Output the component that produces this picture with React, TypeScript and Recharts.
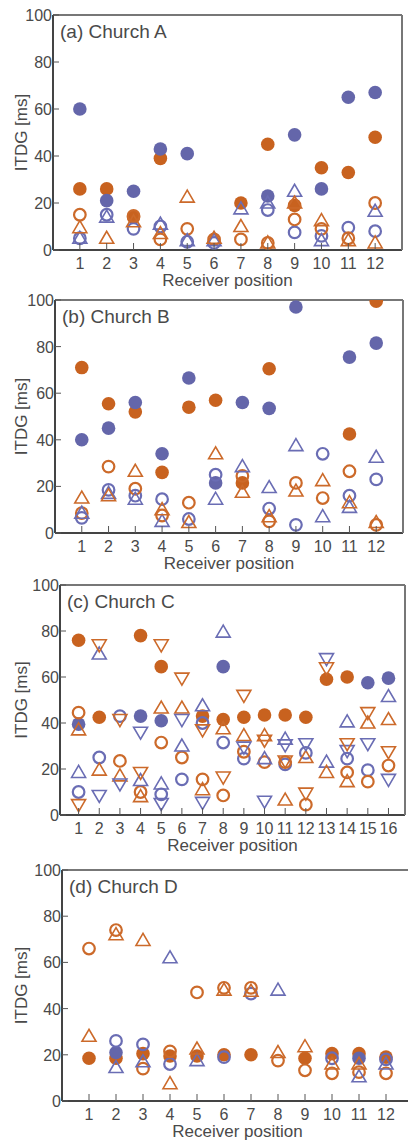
import React from 'react';
import { ScatterChart, Scatter, XAxis, YAxis, Label } from 'recharts';

// Church A, receiver positions 1-12
const A_BLUE_DOT = [60, 21, 25, 43, 41, null, null, 23, 49, 26, 65, 67];
const A_ORANGE_DOT = [26, 26, 14, 39, null, null, 20, 45, 19, 35, 33, 48];
const A_BLUE_RING = [5, 15, 9, 10, 3.5, 3, null, 17, 7.5, 6, 9.5, 8];
const A_ORANGE_RING = [15, null, 14.5, 4.5, 9, 4.5, 4.5, 3, 13, 9, 5, 20];
const A_BLUE_UP = [5, 14, null, 11, 4, 4, 17.5, 20, 25, 4, null, 16.5];
const A_ORANGE_UP = [9.5, 5, 12, 7, 22.5, 5, 10, 3, 20, 12.5, 4, 3];

// Church B, receiver positions 1-12
const B_BLUE_DOT = [40, 45, 56, 34, 66.5, 21.5, 56, 53.5, 97, null, 75.5, 81.5];
const B_ORANGE_DOT = [71, 55.5, 52, 26, 54, 57, 21.5, 70.5, null, null, 42.5, 99.5];
const B_BLUE_RING = [6.5, 18.5, 16, 14.5, 6, 25, null, 10.5, 3.5, 34, 16, 23];
const B_ORANGE_RING = [8.5, 28.5, 19, 7.5, 13, null, 24.5, 5, 21.5, 15, 26.5, 3.5];
const B_BLUE_UP = [8.5, 17, 14.5, 5, null, 14.5, 28.5, 19.5, 37.5, 7, 11, 32.5];
const B_ORANGE_UP = [15, 16, 26.5, 10, 4.5, 34, 17.5, 7, 18, 22.5, 13, 4.5];

// Church C, receiver positions 1-16
const C_BLUE_DOT = [39.5, null, null, 43, 41, null, null, 64.5, null, null, null, null, null, null, 57.5, 59.5];
const C_ORANGE_DOT = [76, 42.5, null, 78, 64.5, null, 43, 41.5, 42.5, 43.5, 43.5, 42.5, 59, 60, null, null];
const C_BLUE_RING = [10, 25, 43, null, 9, 15.5, 40, 31.5, 24.5, null, 22, 27, null, 24.5, 19.5, null];
const C_ORANGE_RING = [44.5, null, 23.5, 10, 31.5, 25, 15.5, 8.5, 27.5, 23, 23, 4.5, null, 18.5, 14.5, 21.5];
const C_BLUE_UP = [18.5, 70, null, 15, 13.5, 30, 47.5, 79.5, null, 24.5, 33, null, 23, 40.5, null, 51.5];
const C_ORANGE_UP = [37, 19.5, 17, 8, 46.5, 46.5, 11, 37.5, 34.5, 34.5, 6.5, 25, 18.5, 14.5, 40, 41.5];
const C_BLUE_DOWN = [null, 8.5, 13.5, 36, 5, 41.5, 5.5, null, 29.5, 6, 30.5, 31, 68, 28, 31, 15.5];
const C_ORANGE_DOWN = [4.5, 74, 41.5, 18.5, 74, 59.5, 37, 16.5, 52, 32.5, 23.5, 9.5, 64, 31, 44.5, 27.5];

// Church D, receiver positions 1-12
const D_BLUE_DOT = [null, 21, null, null, null, null, null, null, null, null, 18.5, null];
const D_ORANGE_DOT = [18.5, 18.5, 20.5, 19.5, 19.5, 20, 20, null, 18.5, 20.5, 20.5, 19];
const D_BLUE_RING = [null, 26, 24.5, 16, null, 19, 46.5, null, null, 18.5, null, 18];
const D_ORANGE_RING = [66, 74, 14, 21.5, 47, 49, 49, 17.5, 13.3, 12, 12.5, 12];
const D_BLUE_UP = [null, 14.5, 17, 62, 17.5, null, null, 48, null, null, 10.5, 16];
const D_ORANGE_UP = [28, 72, 69.5, 7.5, 22.5, 48, 47.5, 21, 23.5, 16, 16, null];

const Y_TICKS = [0, 20, 40, 60, 80, 100];
const POS_12 = [1, 2, 3, 4, 5, 6, 7, 8, 9, 10, 11, 12];
const POS_16 = [1, 2, 3, 4, 5, 6, 7, 8, 9, 10, 11, 12, 13, 14, 15, 16];

const BLUE = '#6a6db4';
const BLUE_FILL = '#6466aa';
const ORANGE = '#cc6a2a';
const ORANGE_FILL = '#c8621f';
const FONT = '"Liberation Sans", Arial, sans-serif';
const TEXT = '#4a4a4a';

const toPoints = (vals: (number | null)[]) =>
  vals.map((v, i) => (v == null ? null : { x: i + 1, y: v })).filter(Boolean) as { x: number; y: number }[];

const dot = (fill: string) => (p: any) => <circle cx={p.cx} cy={p.cy} r={6.8} fill={fill} />;
const ring = (stroke: string) => (p: any) => (
  <circle cx={p.cx} cy={p.cy} r={5.8} fill="none" stroke={stroke} strokeWidth={2.2} />
);
const up = (stroke: string) => (p: any) => (
  <polygon
    points={`${p.cx},${p.cy - 7} ${p.cx - 7},${p.cy + 5} ${p.cx + 7},${p.cy + 5}`}
    fill="none"
    stroke={stroke}
    strokeWidth={1.6}
  />
);
const down = (stroke: string) => (p: any) => (
  <polygon
    points={`${p.cx},${p.cy + 7} ${p.cx - 7},${p.cy - 5} ${p.cx + 7},${p.cy - 5}`}
    fill="none"
    stroke={stroke}
    strokeWidth={1.6}
  />
);

const XTick = (props: any) => {
  const { x, y, payload } = props;
  return (
    <g>
      <line x1={x} x2={x} y1={y} y2={y - 7} stroke="#555" strokeWidth={1} />
      <text x={x} y={y + 19} textAnchor="middle" fontSize={16} fill={TEXT} fontFamily={FONT}>
        {payload.value}
      </text>
    </g>
  );
};

const YTick = (props: any) => {
  const { x, y, payload } = props;
  return (
    <g>
      <line x1={x} x2={x + 6} y1={y} y2={y} stroke="#555" strokeWidth={1} />
      <text x={x - 1} y={y + 6} textAnchor="end" fontSize={16} fill={TEXT} fontFamily={FONT}>
        {payload.value}
      </text>
    </g>
  );
};

interface PanelProps {
  title: string;
  top: number;
  width: number;
  height: number;
  left: number;
  right: number;
  domain: [number, number];
  ticks: number[];
  blueDot: (number | null)[];
  orangeDot: (number | null)[];
  blueRing: (number | null)[];
  orangeRing: (number | null)[];
  blueUp: (number | null)[];
  orangeUp: (number | null)[];
  blueDown?: (number | null)[];
  orangeDown?: (number | null)[];
}

const Panel = (p: PanelProps) => (
  <div style={{ position: 'absolute', left: 0, top: p.top }}>
    <ScatterChart width={p.width} height={p.height} margin={{ top: 14, right: p.right, left: 0, bottom: 0 }}>
      <XAxis
        type="number"
        dataKey="x"
        domain={p.domain}
        ticks={p.ticks}
        allowDataOverflow
        interval={0}
        height={44}
        tickSize={0}
        tickMargin={0}
        tick={<XTick />}
        stroke="#444"
        strokeWidth={2}
      >
        <Label
          content={({ viewBox }: any) => (
            <text
              x={viewBox.x + viewBox.width / 2}
              y={viewBox.y + 36}
              textAnchor="middle"
              fontSize={17}
              fill={TEXT}
              fontFamily={FONT}
            >
              Receiver position
            </text>
          )}
        />
      </XAxis>
      <XAxis
        xAxisId="top"
        orientation="top"
        type="number"
        dataKey="x"
        domain={p.domain}
        allowDataOverflow
        height={1}
        tick={false}
        tickLine={false}
        stroke="#777"
        strokeWidth={2}
      >
        <Label
          content={({ viewBox }: any) => (
            <text x={viewBox.x + 7} y={viewBox.y + 24} fontSize={19} fill={TEXT} fontFamily={FONT}>
              {p.title}
            </text>
          )}
        />
      </XAxis>
      <YAxis
        type="number"
        dataKey="y"
        domain={[0, 100]}
        ticks={Y_TICKS}
        allowDataOverflow
        width={p.left}
        tickSize={0}
        tickMargin={0}
        tick={<YTick />}
        stroke="#444"
        strokeWidth={2}
      >
        <Label
          content={({ viewBox }: any) => {
            const cx = 21;
            const cy = viewBox.y + viewBox.height / 2;
            return (
              <text
                x={cx}
                y={cy}
                transform={`rotate(-90, ${cx}, ${cy})`}
                textAnchor="middle"
                dominantBaseline="central"
                fontSize={17}
                fill={TEXT}
                fontFamily={FONT}
              >
                ITDG [ms]
              </text>
            );
          }}
        />
      </YAxis>
      <YAxis
        yAxisId="right"
        orientation="right"
        type="number"
        domain={[0, 100]}
        allowDataOverflow
        width={1}
        tick={false}
        tickLine={false}
        stroke="#777"
        strokeWidth={2}
      />
      <Scatter data={toPoints(p.orangeDot)} shape={dot(ORANGE_FILL)} isAnimationActive={false} />
      <Scatter data={toPoints(p.blueDot)} shape={dot(BLUE_FILL)} isAnimationActive={false} />
      <Scatter data={toPoints(p.blueRing)} shape={ring(BLUE)} isAnimationActive={false} />
      <Scatter data={toPoints(p.orangeRing)} shape={ring(ORANGE)} isAnimationActive={false} />
      <Scatter data={toPoints(p.blueUp)} shape={up(BLUE)} isAnimationActive={false} />
      <Scatter data={toPoints(p.orangeUp)} shape={up(ORANGE)} isAnimationActive={false} />
      {p.blueDown && <Scatter data={toPoints(p.blueDown)} shape={down(BLUE)} isAnimationActive={false} />}
      {p.orangeDown && <Scatter data={toPoints(p.orangeDown)} shape={down(ORANGE)} isAnimationActive={false} />}
    </ScatterChart>
  </div>
);

export default function App() {
  return (
    <div
      style={{
        position: 'absolute',
        left: 0,
        top: 0,
        width: 408,
        height: 1145,
        overflow: 'hidden',
        background: '#fff',
      }}
    >
      <Panel
        title="(a) Church A"
        top={0}
        width={408}
        height={294}
        left={53}
        right={5}
        domain={[0, 13]}
        ticks={POS_12}
        blueDot={A_BLUE_DOT}
        orangeDot={A_ORANGE_DOT}
        blueRing={A_BLUE_RING}
        orangeRing={A_ORANGE_RING}
        blueUp={A_BLUE_UP}
        orangeUp={A_ORANGE_UP}
      />
      <Panel
        title="(b) Church B"
        top={285}
        width={408}
        height={292}
        left={55}
        right={4}
        domain={[0, 13]}
        ticks={POS_12}
        blueDot={B_BLUE_DOT}
        orangeDot={B_ORANGE_DOT}
        blueRing={B_BLUE_RING}
        orangeRing={B_ORANGE_RING}
        blueUp={B_BLUE_UP}
        orangeUp={B_ORANGE_UP}
      />
      <Panel
        title="(c) Church C"
        top={570}
        width={408}
        height={289}
        left={60}
        right={2}
        domain={[0.1, 16.8]}
        ticks={POS_16}
        blueDot={C_BLUE_DOT}
        orangeDot={C_ORANGE_DOT}
        blueRing={C_BLUE_RING}
        orangeRing={C_ORANGE_RING}
        blueUp={C_BLUE_UP}
        orangeUp={C_ORANGE_UP}
        blueDown={C_BLUE_DOWN}
        orangeDown={C_ORANGE_DOWN}
      />
      <Panel
        title="(d) Church D"
        top={855}
        width={414}
        height={290}
        left={62}
        right={0}
        domain={[0, 13]}
        ticks={POS_12}
        blueDot={D_BLUE_DOT}
        orangeDot={D_ORANGE_DOT}
        blueRing={D_BLUE_RING}
        orangeRing={D_ORANGE_RING}
        blueUp={D_BLUE_UP}
        orangeUp={D_ORANGE_UP}
      />
    </div>
  );
}
